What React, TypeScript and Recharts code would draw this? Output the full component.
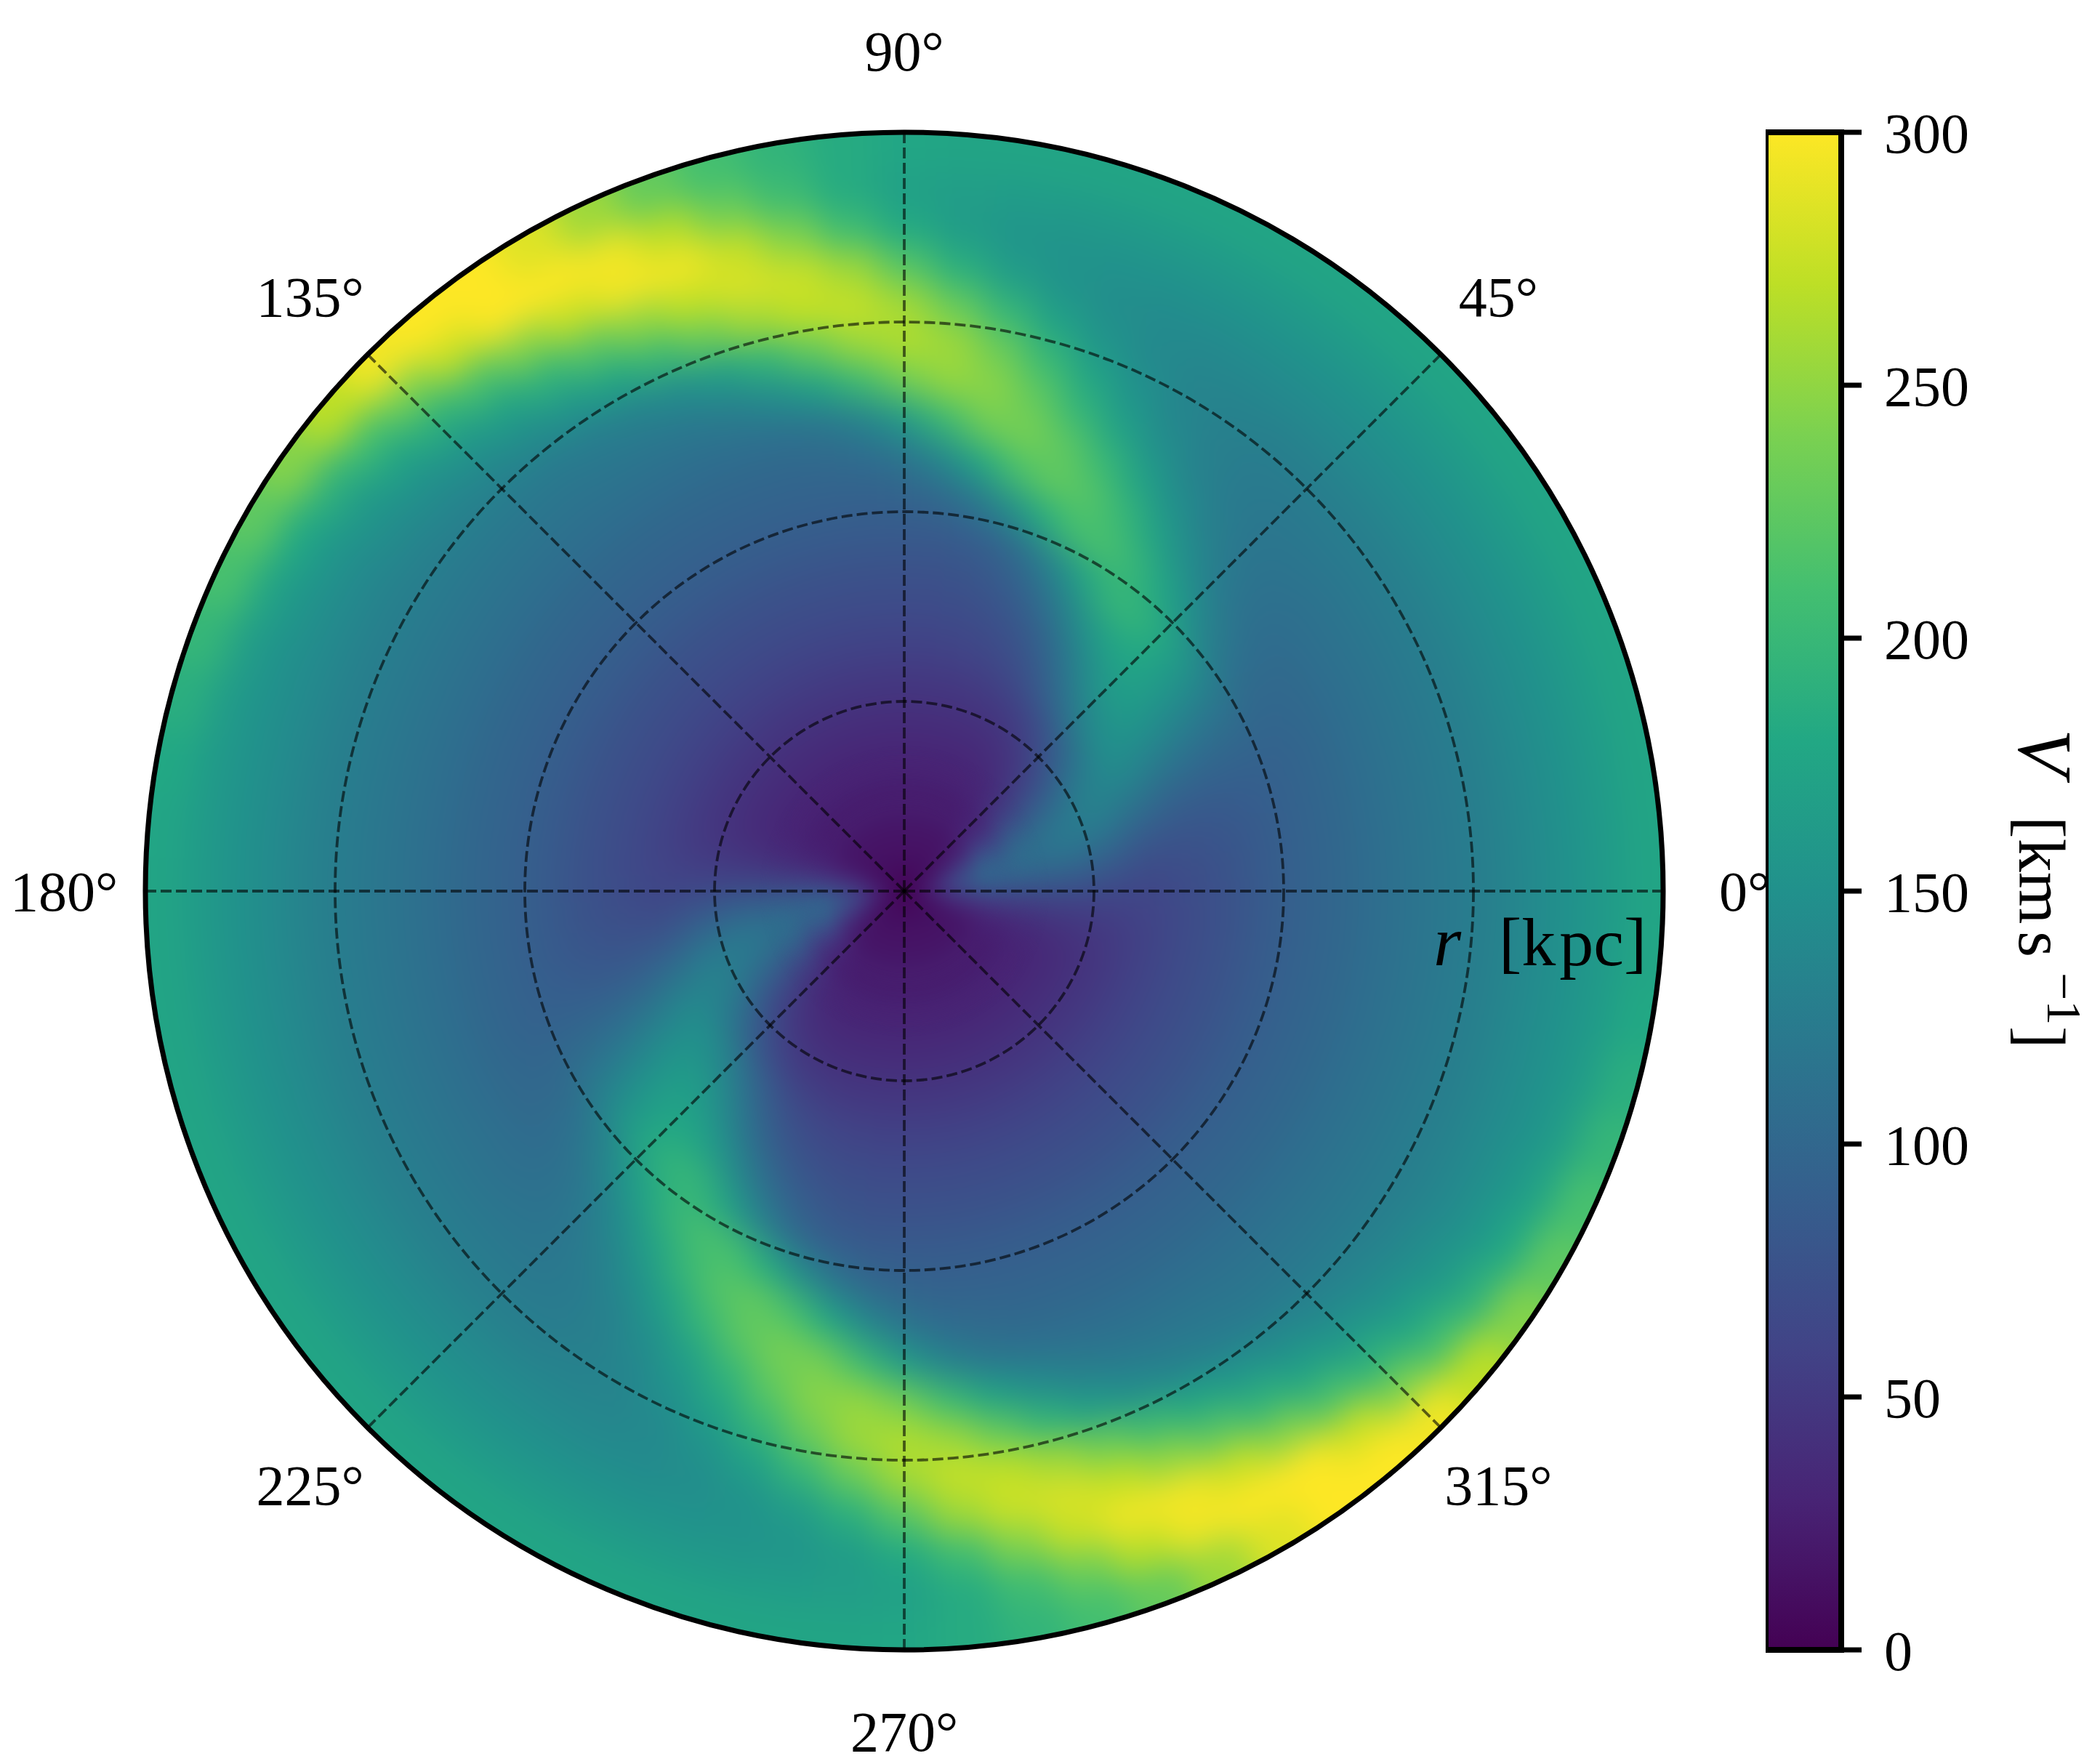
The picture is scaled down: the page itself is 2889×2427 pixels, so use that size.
import { PieChart, Pie, Cell, RadarChart, PolarGrid, PolarAngleAxis, PolarRadiusAxis, BarChart, Bar, XAxis, YAxis } from "recharts";

// clockwise from the top, the order RadarChart lays categories out in
const angleLabels = ["90°", "45°", "0°", "315°", "270°", "225°", "180°", "135°"];
const gridAngles = [0, 45, 90, 135, 180, 225, 270, 315];
const radiusTicks = [10, 20, 30, 40];
const colorbarTicks = [0, 50, 100, 150, 200, 250, 300];

// ring edges in kpc, last ring runs past the frame and gets clipped
const ringEdges = [0, 1, 2, 3, 4, 6, 8, 10, 12, 14, 16, 18, 20, 22, 24, 26, 28, 30, 32, 34, 36, 38, 40, 44];

// V in km/s per ring, one value every 5 deg from 0 to 175. The disc repeats after 180 deg.
const velocityRings = [
  [10,11,11,10,9,7,6,5,5,5,5,5, 5,5,5,5,5,5,5,5,5,5,5,5, 5,5,5,5,5,5,5,5,6,7,8,9],
  [30,32,31,28,24,20,17,14,13,12,12,12, 12,12,12,12,12,12,12,12,12,12,12,12, 12,12,12,12,12,12,13,14,16,18,22,27],
  [53,59,60,55,46,37,28,22,18,16,15,15, 15,15,15,15,15,15,15,15,15,15,15,15, 15,15,15,15,15,15,16,18,21,27,35,44],
  [66,76,80,76,66,53,40,30,24,21,19,18, 18,18,18,18,18,18,18,18,18,18,18,18, 18,18,18,18,18,18,19,21,24,30,40,53],
  [73,89,98,99,91,76,60,46,36,30,26,25, 24,24,24,24,24,24,24,24,24,24,24,24, 24,24,24,24,24,24,25,26,29,34,44,57],
  [71,89,105,114,113,102,85,67,52,41,35,32, 31,30,30,30,30,30,30,30,30,30,30,30, 30,30,30,30,30,30,30,31,33,36,43,55],
  [69,87,105,120,125,120,105,87,69,55,47,42, 39,38,38,38,38,38,38,38,38,38,38,38, 38,38,38,38,38,38,38,38,39,42,47,55],
  [64,76,93,112,127,135,132,118,100,83,68,58, 52,50,49,48,48,48,48,48,48,48,48,48, 48,48,48,48,48,48,48,48,48,49,51,56],
  [62,67,76,91,110,129,144,150,144,129,110,91, 76,67,62,60,59,58,58,58,58,58,58,58, 58,58,58,58,58,58,58,58,58,58,59,60],
  [69,71,75,83,96,115,135,153,164,163,145,120, 97,82,74,70,69,68,68,68,68,68,68,68, 68,68,68,68,68,68,68,68,68,68,68,68],
  [76,77,79,83,92,106,125,146,166,177,176,158, 130,105,89,81,77,76,76,76,76,76,76,76, 76,76,76,76,76,76,76,76,76,76,76,76],
  [85,85,86,88,92,101,115,136,160,183,198,199, 175,141,113,95,88,86,85,85,85,85,85,85, 85,85,85,85,85,85,85,85,85,85,85,85],
  [93,93,93,94,94,97,102,112,128,152,177,200, 214,210,182,145,117,102,96,94,93,93,93,93, 93,93,93,93,93,93,93,93,93,93,93,93],
  [100,100,100,100,100,101,102,106,113,126,146,172, 199,220,228,213,178,141,117,106,102,100,100,100, 100,100,100,100,100,100,100,100,100,100,100,100],
  [108,108,108,108,108,108,109,109,112,118,128,146, 171,199,224,239,235,204,165,134,117,111,109,108, 108,108,108,108,108,108,108,108,108,108,108,108],
  [115,115,115,115,115,115,115,115,116,118,122,131, 147,170,197,226,247,252,236,205,171,145,128,120, 117,116,115,115,115,115,115,115,115,115,115,115],
  [122,122,122,122,122,122,122,122,122,123,124,128, 136,151,173,202,232,256,265,255,228,195,166,144, 132,126,123,122,122,122,122,122,122,122,122,122],
  [130,130,130,130,130,130,130,130,130,130,130,132, 134,141,152,172,200,230,258,274,272,256,230,201, 175,155,143,136,133,131,130,130,130,130,130,130],
  [140,140,140,140,140,140,140,140,140,140,140,140, 140,142,145,152,166,189,220,256,277,283,272,249, 222,194,171,157,148,144,141,140,140,140,140,140],
  [150,150,150,150,150,150,150,150,150,150,150,150, 150,150,151,152,155,164,181,208,244,275,295,295, 275,245,214,190,172,161,155,152,150,150,150,150],
  [162,162,162,162,162,162,162,162,162,162,162,162, 162,162,162,162,163,165,170,184,208,235,268,295, 300,300,275,238,210,192,180,172,166,163,162,162],
  [175,175,175,175,175,175,175,175,175,175,175,175, 175,175,175,175,175,175,178,184,195,210,228,255, 285,300,300,295,270,245,225,212,198,188,180,176],
  [175,175,175,175,175,175,175,175,175,175,175,175, 175,175,175,175,175,175,178,184,195,210,228,255, 285,300,300,295,270,245,225,212,198,188,180,176],
];

const viridis = ["#440154", "#482475", "#414487", "#355f8d", "#2a788e", "#21918c", "#22a884", "#44bf70", "#7ad151", "#bddf26", "#fde725"];
const vMax = 300;

const WIDTH = 2889;
const HEIGHT = 2427;
const CX = 1244;
const CY = 1226;
const R_OUTER = 1044;
const PX_PER_KPC = R_OUTER / 40;
const FONT = "'Liberation Serif', serif";

function toColor(v: number) {
  const t = (Math.min(v, vMax) / vMax) * (viridis.length - 1);
  const i = Math.min(Math.floor(t), viridis.length - 2);
  const f = t - i;
  const a = viridis[i];
  const b = viridis[i + 1];
  const mix = (p: number) => {
    const x = parseInt(a.slice(p, p + 2), 16);
    const y = parseInt(b.slice(p, p + 2), 16);
    return Math.round(x + (y - x) * f);
  };
  return `rgb(${mix(1)},${mix(3)},${mix(5)})`;
}

function AngleTick(props: any) {
  const dx = props.x - CX;
  const dy = props.y - CY;
  const len = Math.hypot(dx, dy) || 1;
  return (
    <text x={CX + (dx / len) * 1156} y={CY + (dy / len) * 1156} textAnchor="middle" dominantBaseline="central" fontSize={78} fontFamily={FONT} fill="#000">
      {props.payload.value}
    </text>
  );
}

function RadiusTick(props: any) {
  return (
    <text x={props.x + 40} y={props.y - 38} textAnchor="middle" dominantBaseline="central" fontSize={78} fontFamily={FONT} fill="#000">
      {props.payload.value}
    </text>
  );
}

function HeatRings({ rows, blur }: { rows: number[][]; blur: number }) {
  return (
    <div style={{ filter: `blur(${blur}px)` }}>
      <PieChart width={WIDTH} height={HEIGHT} margin={{ top: 0, right: 0, bottom: 0, left: 0 }}>
        {rows.map((row, i) => {
          const sectors = [...row, ...row].map((v) => ({ v, weight: 1 }));
          return (
            <Pie
              key={i}
              data={sectors}
              dataKey="weight"
              cx={CX}
              cy={CY}
              innerRadius={ringEdges[i] * PX_PER_KPC}
              outerRadius={ringEdges[i + 1] * PX_PER_KPC}
              startAngle={-2.5}
              endAngle={357.5}
              paddingAngle={0}
              isAnimationActive={false}
              label={false}
              labelLine={false}
            >
              {sectors.map((s, j) => (
                <Cell key={j} fill={toColor(s.v)} stroke={toColor(s.v)} strokeWidth={2} />
              ))}
            </Pie>
          );
        })}
      </PieChart>
    </div>
  );
}

const layer = { position: "absolute", left: 0, top: 0 } as const;
const gridData = angleLabels.map((label) => ({ label, r: 0 }));
const barData = [{ name: "V", top: vMax }];
const innerMask = `radial-gradient(circle at ${CX}px ${CY}px, #000 110px, transparent 200px)`;

export default function App() {
  return (
    <div style={{ position: "absolute", left: 0, top: 0, width: WIDTH, height: HEIGHT, background: "#fff", overflow: "hidden" }}>
      <div style={{ ...layer, width: WIDTH, height: HEIGHT, clipPath: `circle(${R_OUTER}px at ${CX}px ${CY}px)` }}>
        <HeatRings rows={velocityRings} blur={24} />
      </div>
      {/* sharper copy of the middle, the star there is narrower than the outer blur */}
      <div style={{ ...layer, width: WIDTH, height: HEIGHT, maskImage: innerMask, WebkitMaskImage: innerMask }}>
        <HeatRings rows={velocityRings.slice(0, 9)} blur={12} />
      </div>

      <div style={layer}>
        <RadarChart width={WIDTH} height={HEIGHT} data={gridData} cx={CX} cy={CY} outerRadius={R_OUTER} innerRadius={0} margin={{ top: 0, right: 0, bottom: 0, left: 0 }}>
          <PolarGrid
            gridType="circle"
            polarAngles={gridAngles}
            polarRadius={radiusTicks.map((t) => t * PX_PER_KPC)}
            stroke="#000"
            strokeOpacity={0.6}
            strokeWidth={3.8}
            strokeDasharray="15 6"
          />
          <PolarGrid gridType="circle" polarAngles={[]} polarRadius={[R_OUTER]} stroke="#000" strokeWidth={7} />
          <PolarAngleAxis dataKey="label" tick={AngleTick} tickLine={false} axisLine={false} />
          <PolarRadiusAxis angle={22.5} type="number" domain={[0, 40]} ticks={radiusTicks} tick={RadiusTick} axisLine={false} tickLine={false} />
        </RadarChart>
      </div>

      <div style={{ ...layer, left: 2429 }}>
        <BarChart width={460} height={HEIGHT} data={barData} barCategoryGap={0} margin={{ top: 182, right: 0, bottom: 157, left: 0 }}>
          <defs>
            <linearGradient id="viridisBar" x1="0" y1="1" x2="0" y2="0">
              {viridis.map((c, i) => (
                <stop key={c} offset={i / (viridis.length - 1)} stopColor={c} />
              ))}
            </linearGradient>
          </defs>
          <XAxis dataKey="name" hide />
          <YAxis
            orientation="right"
            type="number"
            domain={[0, vMax]}
            ticks={colorbarTicks}
            interval={0}
            width={356}
            axisLine={false}
            tickSize={28}
            tickMargin={31}
            tickLine={{ stroke: "#000", strokeWidth: 7 }}
            tick={{ fontSize: 78, fontFamily: FONT, fill: "#000" }}
          />
          <Bar dataKey="top" fill="url(#viridisBar)" stroke="#000" strokeWidth={8} isAnimationActive={false} />
        </BarChart>
      </div>

      <svg width={WIDTH} height={HEIGHT} style={{ ...layer, pointerEvents: "none" }} fontFamily={FONT} fill="#000">
        <text x={1972} y={1328} fontSize={98} fontStyle="italic">r</text>
        <text x={2062} y={1328} fontSize={94}>
          [k<tspan dx={5}>pc]</tspan>
        </text>
        <text transform="translate(2778,1003) rotate(90)" fontSize={105} fontStyle="italic">V</text>
        <text transform="translate(2778,1123) rotate(90)" fontSize={92}>
          [km<tspan dx={10}>s</tspan>
        </text>
        <text transform="translate(2817,1338) rotate(90)" fontSize={68}>−1</text>
        <text transform="translate(2778,1412) rotate(90)" fontSize={92}>]</text>
      </svg>
    </div>
  );
}
